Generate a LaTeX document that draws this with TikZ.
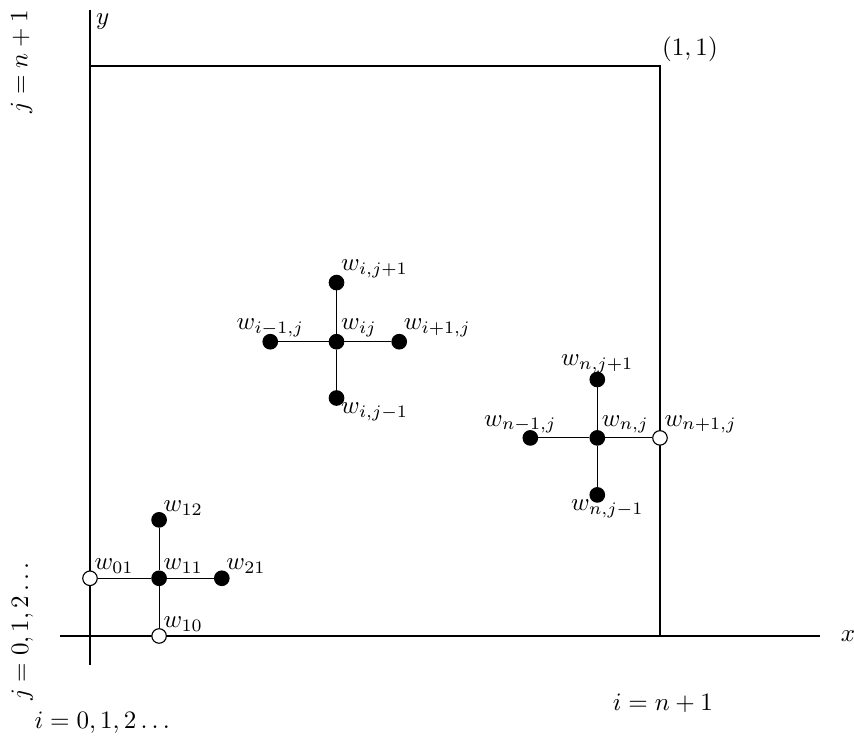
\documentclass[tikz,border=0pt]{standalone}
\usepackage{amsmath}
\usepackage{amssymb}
\usetikzlibrary{positioning}

\tikzset{
  gdot/.style={circle, draw, fill=black, inner sep=0pt, minimum size=5.8pt},
  bdot/.style={circle, draw, fill=white, inner sep=0pt, minimum size=5.8pt},
  wlbl/.style={inner sep=1.6pt},
}

\begin{document}
\begin{tikzpicture}[line width=0.45pt]
    \useasboundingbox (-1.263,-1.460) rectangle (10.723,8.926);
    % axes and unit square
    \coordinate (xs) at (-0.42,0);
    \coordinate (xe) at (10.25,0);
    \coordinate (ys) at (0,-0.41);
    \coordinate (ye) at (0,8.79);
    \draw (xs) -- (xe);
    \draw (ys) -- (ye);
    \draw[line width=0.65pt] (0,0) rectangle (8,8);
    \node (xl) at (10.64,0) {$x$};
    \node (yl) at (0.18,8.63) {$y$};
    \node (corner) at (8.42,8.24) {$(1,1)$};
    \node[rotate=90] (jtop) at (-0.96,8.06) {$j=n+1$};
    \node[rotate=90] (jbot) at (-0.95,0.09) {$j=0,1,2\dots$};
    \node (ileft) at (0.2,-1.22) {$i=0,1,2\dots$};
    \node (iright) at (8.04,-0.94) {$i=n+1$};

    % corner stencil
    \node[gdot] (w11) at (0.97,0.81) {};
    \node[gdot] (w12) at (0.97,1.63) {};
    \node[gdot] (w21) at (1.85,0.81) {};
    \node[bdot] (w01) at (0,0.81) {};
    \node[bdot] (w10) at (0.97,0) {};
    \draw (w01) -- (w11) -- (w21);
    \draw (w12) -- (w11) -- (w10);
    \node[wlbl, above right=0pt of w11.center] (t11) {$w_{11}$};
    \node[wlbl, above right=0pt of w12.center] (t12) {$w_{12}$};
    \node[wlbl, above right=0pt of w21.center] (t21) {$w_{21}$};
    \node[wlbl, above right=0pt of w01.center] (t01) {$w_{01}$};
    \node[wlbl, above right=0pt of w10.center] (t10) {$w_{10}$};

    % interior stencil
    \node[gdot] (wij) at (3.46,4.13) {};
    \node[gdot] (wijp) at (3.46,4.96) {};
    \node[gdot] (wijm) at (3.46,3.34) {};
    \node[gdot] (wimj) at (2.53,4.13) {};
    \node[gdot] (wipj) at (4.34,4.13) {};
    \draw (wimj) -- (wij) -- (wipj);
    \draw (wijp) -- (wij) -- (wijm);
    \node[wlbl, above right=0pt of wij.center] (tij) {$w_{ij}$};
    \node[wlbl, above right=0pt of wijp.center] (tijp) {$w_{i,j+1}$};
    \node[wlbl, below right=0pt of wijm.center] (tijm) {$w_{i,j-1}$};
    \node[wlbl, above=0pt of wimj.center] (timj) {$w_{i-1,j}$};
    \node[wlbl, above right=0pt of wipj.center] (tipj) {$w_{i+1,j}$};

    % stencil at the right edge
    \node[gdot] (wnj) at (7.12,2.78) {};
    \node[gdot] (wnjp) at (7.12,3.60) {};
    \node[gdot] (wnjm) at (7.12,1.98) {};
    \node[gdot] (wnmj) at (6.18,2.78) {};
    \node[bdot] (wnpj) at (8,2.78) {};
    \draw (wnmj) -- (wnj) -- (wnpj);
    \draw (wnjp) -- (wnj) -- (wnjm);
    \node[wlbl, above right=0pt of wnj.center] (tnj) {$w_{n,j}$};
    \node[wlbl, above=1pt of wnjp.center] (tnjp) {$w_{n,j+1}$};
    \node[wlbl, below=0pt of wnjm.center, xshift=4pt] (tnjm) {$w_{n,j-1}$};
    \node[wlbl, above=0pt of wnmj.center, xshift=-4pt] (tnmj) {$w_{n-1,j}$};
    \node[wlbl, above right=0pt of wnpj.center] (tnpj) {$w_{n+1,j}$};
\end{tikzpicture}
\end{document}
